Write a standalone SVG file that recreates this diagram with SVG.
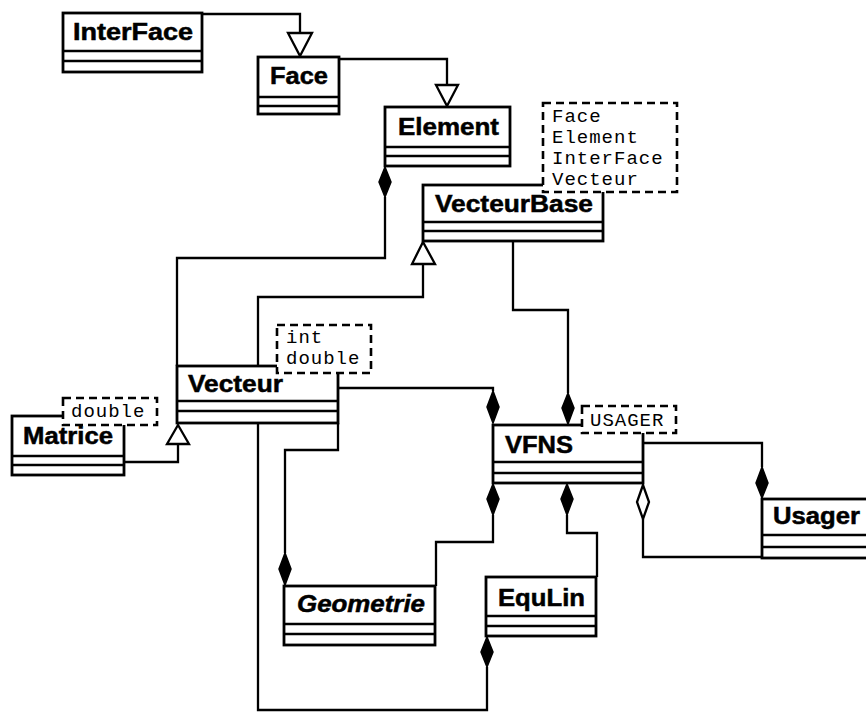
<svg xmlns="http://www.w3.org/2000/svg" width="866" height="713" viewBox="0 0 866 713">
<defs>
<style>
.box{fill:#fff;stroke:#000;stroke-width:2.8}
.sep{stroke:#000;stroke-width:2.6}
.nm{font-family:"Liberation Sans",Arial,sans-serif;font-weight:bold;font-size:23px;fill:#000;stroke:#000;stroke-width:0.5}
.it{font-style:italic}
.con{fill:none;stroke:#000;stroke-width:2.3}
.tri{fill:#fff;stroke:#000;stroke-width:2.3}
.dia{fill:#000;stroke:#000;stroke-width:1.5}
.hdia{fill:#fff;stroke:#000;stroke-width:2.3}
.note{fill:#fff;stroke:#000;stroke-width:2.6;stroke-dasharray:8 5}
.mono{font-family:"Liberation Mono","Courier New",monospace;font-size:19px;letter-spacing:1px;fill:#000}
</style>
</defs>
<rect width="866" height="713" fill="#fff"/>
<g id="connectors">
<path class="con" d="M202,14 H300 V33"/>
<polygon class="tri" points="288,33 312,33 300,56"/>
<path class="con" d="M339,59 H447 V85"/>
<polygon class="tri" points="436,85 458,85 447,106"/>
<path class="con" d="M385,197 V258 H177 V366"/>
<polygon class="dia" points="385,167 379,182 385,197 391,182"/>
<path class="con" d="M258,366 V297 H423 V264"/>
<polygon class="tri" points="412,264 435,264 423,242"/>
<path class="con" d="M513,241 V310 H568 V393"/>
<polygon class="dia" points="568,393 562,408 568,424 574,408"/>
<path class="con" d="M338,388 H493 V391"/>
<polygon class="dia" points="493,391 487,407 493,423 499,407"/>
<path class="con" d="M124,462 H178 V444"/>
<polygon class="tri" points="167,444 189,444 178,425"/>
<path class="con" d="M643,443 H762 V467"/>
<polygon class="dia" points="762,467 756,483 762,498 768,483"/>
<path class="con" d="M643,519 V557 H762"/>
<polygon class="hdia" points="643,485 637,502 643,519 649,502"/>
<path class="con" d="M493,515 V542 H436 V586"/>
<polygon class="dia" points="493,484 487,499 493,515 499,499"/>
<path class="con" d="M567,515 V533 H597 V577"/>
<polygon class="dia" points="567,484 561,499 567,515 573,499"/>
<path class="con" d="M338,423 V450 H285 V553"/>
<polygon class="dia" points="285,553 279,569 285,585 291,569"/>
<path class="con" d="M487,667 V710 H258 V423"/>
<polygon class="dia" points="487,637 481,652 487,667 493,652"/>
</g>
<g id="InterFace">
<rect class="box" x="63" y="13" width="139" height="59"/>
<line class="sep" x1="63" y1="51" x2="202" y2="51"/><line class="sep" x1="63" y1="61" x2="202" y2="61"/>
<text class="nm" x="73" y="40" textLength="120" lengthAdjust="spacingAndGlyphs">InterFace</text>
</g>
<g id="Face">
<rect class="box" x="258" y="57" width="81" height="57"/>
<line class="sep" x1="258" y1="97" x2="339" y2="97"/><line class="sep" x1="258" y1="106" x2="339" y2="106"/>
<text class="nm" x="270" y="84" textLength="58" lengthAdjust="spacingAndGlyphs">Face</text>
</g>
<g id="Element">
<rect class="box" x="385" y="107" width="125" height="59"/>
<line class="sep" x1="385" y1="147" x2="510" y2="147"/><line class="sep" x1="385" y1="156" x2="510" y2="156"/>
<text class="nm" x="398" y="135" textLength="101" lengthAdjust="spacingAndGlyphs">Element</text>
</g>
<g id="VecteurBase">
<rect class="box" x="423" y="185" width="180" height="56"/>
<line class="sep" x1="423" y1="222" x2="603" y2="222"/><line class="sep" x1="423" y1="231" x2="603" y2="231"/>
<text class="nm" x="435" y="212" textLength="158" lengthAdjust="spacingAndGlyphs">VecteurBase</text>
</g>
<g id="Vecteur">
<rect class="box" x="177" y="366" width="161" height="57"/>
<line class="sep" x1="177" y1="401" x2="338" y2="401"/><line class="sep" x1="177" y1="411" x2="338" y2="411"/>
<text class="nm" x="188" y="392" textLength="95" lengthAdjust="spacingAndGlyphs">Vecteur</text>
</g>
<g id="Matrice">
<rect class="box" x="12" y="416" width="112" height="59"/>
<line class="sep" x1="12" y1="456" x2="124" y2="456"/><line class="sep" x1="12" y1="465" x2="124" y2="465"/>
<text class="nm" x="23" y="444" textLength="90" lengthAdjust="spacingAndGlyphs">Matrice</text>
</g>
<g id="VFNS">
<rect class="box" x="493" y="425" width="150" height="58"/>
<line class="sep" x1="493" y1="462" x2="643" y2="462"/><line class="sep" x1="493" y1="473" x2="643" y2="473"/>
<text class="nm" x="505" y="453" textLength="68" lengthAdjust="spacingAndGlyphs">VFNS</text>
</g>
<g id="Usager">
<rect class="box" x="762" y="499" width="120" height="59"/>
<line class="sep" x1="762" y1="535" x2="882" y2="535"/><line class="sep" x1="762" y1="547" x2="882" y2="547"/>
<text class="nm" x="773" y="524" textLength="87" lengthAdjust="spacingAndGlyphs">Usager</text>
</g>
<g id="Geometrie">
<rect class="box" x="284" y="586" width="151" height="59"/>
<line class="sep" x1="284" y1="624" x2="435" y2="624"/><line class="sep" x1="284" y1="634" x2="435" y2="634"/>
<text class="nm it" x="297" y="612" textLength="128" lengthAdjust="spacingAndGlyphs">Geometrie</text>
</g>
<g id="EquLin">
<rect class="box" x="486" y="577" width="110" height="59"/>
<line class="sep" x1="486" y1="616" x2="596" y2="616"/><line class="sep" x1="486" y1="626" x2="596" y2="626"/>
<text class="nm" x="498" y="606" textLength="87" lengthAdjust="spacingAndGlyphs">EquLin</text>
</g>
<g id="note-element">
<rect class="note" x="543" y="103" width="134" height="89"/>
<text class="mono" x="552" y="122">Face</text>
<text class="mono" x="552" y="143">Element</text>
<text class="mono" x="552" y="164">InterFace</text>
<text class="mono" x="552" y="185">Vecteur</text>
</g>
<g id="note-vecteur">
<rect class="note" x="277" y="325" width="94" height="48"/>
<text class="mono" x="286" y="343">int</text>
<text class="mono" x="286" y="364">double</text>
</g>
<g id="note-matrice">
<rect class="note" x="63" y="398" width="94" height="27"/>
<text class="mono" x="71" y="417">double</text>
</g>
<g id="note-vfns">
<rect class="note" x="582" y="406" width="94" height="27"/>
<text class="mono" x="590" y="426">USAGER</text>
</g>
</svg>
